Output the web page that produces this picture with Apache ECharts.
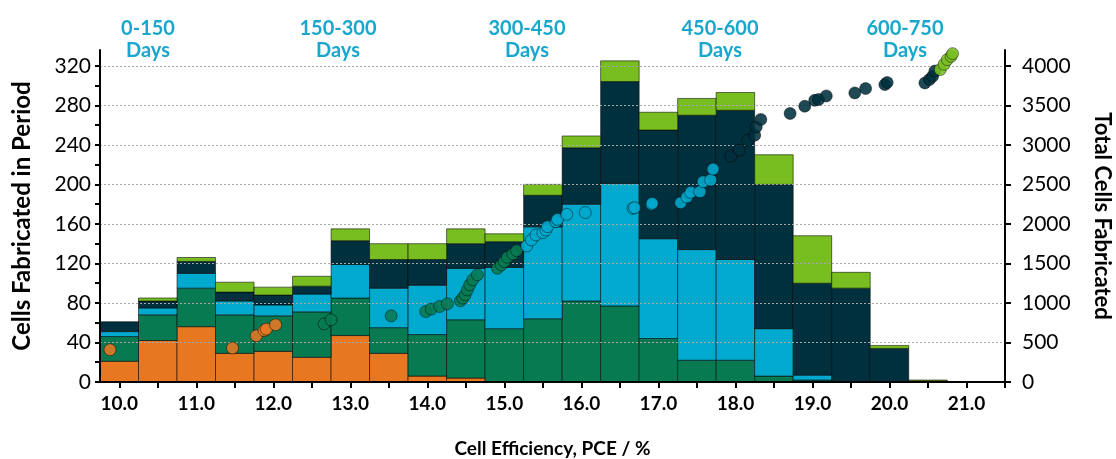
<!DOCTYPE html>
<html><head><meta charset="utf-8">
<script src="https://cdn.jsdelivr.net/npm/echarts@6/dist/echarts.min.js"></script>
<style>html,body{margin:0;padding:0;background:#fff}#c{width:1116px;height:459px}</style>
</head><body><div id="c"></div>
<script>
// ---- data ----
const binCenters = [10.0,10.5,11.0,11.5,12.0,12.5,13.0,13.5,14.0,14.5,15.0,15.5,16.0,16.5,17.0,17.5,18.0,18.5,19.0,19.5,20.0,20.5,21.0];
const periodNames = ['0-150\nDays','150-300\nDays','300-450\nDays','450-600\nDays','600-750\nDays'];
const cells0_150   = [21,42,56,29,31,25,47,29,6,4,0,0,0,0,0,0,0,0,0,0,0,0,0];
const cells150_300 = [25,26,39,39,36,46,38,26,42,59,54,64,82,77,44,22,22,6,2,0,0,0,0];
const cells300_450 = [5,7,15,14,11,18,34,40,50,52,62,93,98,124,101,112,102,48,5,0,0,0,0];
const cells450_600 = [10,7,12,9,10,8,24,29,26,25,26,32,57,103,110,136,151,146,93,95,34,1,0];
const cells600_750 = [0,3,4,10,8,10,12,16,16,15,8,11,12,21,18,17,18,30,48,16,3,1,0];

const total0_150 = [[9.88,408],[11.47,429],[11.78,585],[11.88,652],[11.91,669],[12.03,723]];
const total150_300 = [[12.66,736],[12.75,787],[13.53,837],[13.98,891],[14.05,922],[14.16,955],[14.26,989],[14.43,1027],[14.46,1061],[14.49,1102],[14.52,1165],[14.55,1229],[14.59,1292],[14.65,1355],[14.91,1439],[14.96,1481],[15.00,1523],[15.04,1578],[15.11,1620],[15.16,1662]];
const total300_450 = [[15.29,1721],[15.35,1797],[15.41,1860],[15.50,1889],[15.54,1923],[15.56,1965],[15.67,2028],[15.69,2058],[15.81,2121],[16.05,2144],[16.67,2197],[16.69,2205],[16.91,2247],[16.92,2260],[17.29,2268],[17.37,2340],[17.42,2399],[17.54,2407],[17.58,2533],[17.68,2554],[17.71,2693]];
const total450_600 = [[17.94,2857],[18.05,2933],[18.16,3059],[18.25,3122],[18.27,3227],[18.33,3321],[18.71,3397],[18.90,3489],[19.03,3564],[19.08,3573],[19.18,3619],[19.55,3657],[19.69,3712],[19.94,3762],[19.97,3788],[20.46,3783],[20.52,3826],[20.56,3868],[20.59,3934]];
const total600_750 = [[20.66,3952],[20.71,4019],[20.75,4078],[20.80,4120],[20.82,4154]];

const xTickValues = [10.0,10.5,11.0,11.5,12.0,12.5,13.0,13.5,14.0,14.5,15.0,15.5,16.0,16.5,17.0,17.5,18.0,18.5,19.0,19.5,20.0,20.5,21.0,21.5];
const xTickLabels = [10,11,12,13,14,15,16,17,18,19,20,21];
const leftTickLabels = [0,40,80,120,160,200,240,280,320];
const leftTickMarks = [0,20,40,60,80,100,120,140,160,180,200,220,240,260,280,300,320];
const rightTickLabels = [0,500,1000,1500,2000,2500,3000,3500,4000];

// ---- styling ----
const colors = ['#E87722','#087A52','#00A9CE','#00303D','#78BE20'];
const FONT = 'Lato';
const stacks = [cells0_150, cells150_300, cells300_450, cells450_600, cells600_750];
const totals = [total0_150, total150_300, total300_450, total450_600, total600_750];
const binWidth = binCenters[1] - binCenters[0];

function barSeries(idx) {
  const data = binCenters.map((x, i) => {
    let base = 0;
    for (let k = 0; k < idx; k++) base += stacks[k][i];
    return [x, base, base + stacks[idx][i]];
  });
  return {
    type: 'custom', name: periodNames[idx], xAxisIndex: 0, yAxisIndex: 0, z: 2,
    data, encode: { x: 0, y: [1, 2] },
    renderItem: (params, api) => {
      const x = api.value(0), y0 = api.value(1), y1 = api.value(2);
      if (!(y1 - y0 > 0)) return null;
      const p0 = api.coord([x - binWidth / 2, y0]);
      const p1 = api.coord([x + binWidth / 2, y1]);
      return { type: 'rect',
        shape: { x: p0[0], y: p1[1], width: p1[0] - p0[0], height: p0[1] - p1[1] },
        style: { fill: colors[idx], stroke: 'rgba(0,0,0,0.55)', lineWidth: 1 } };
    }
  };
}
function dotSeries(idx) {
  return {
    type: 'scatter', name: periodNames[idx] + ' total', xAxisIndex: 0, yAxisIndex: 1, z: 6,
    data: totals[idx], symbolSize: 12,
    itemStyle: { color: colors[idx], borderColor: 'rgba(0,0,0,0.5)', borderWidth: 1, opacity: 0.88 }
  };
}

const chart = echarts.init(document.getElementById('c'), null, { renderer: 'canvas' });
const labelX = [148, 338, 527, 720, 905];
chart.setOption({
  animation: false,
  backgroundColor: '#fff',
  grid: { left: 100, right: 111, top: 50, bottom: 77, containLabel: false, outerBoundsMode: 'none' },
  xAxis: {
    type: 'value', min: 9.75, max: 21.5, z: 4,
    axisLine: { lineStyle: { color: '#000', width: 2 } },
    axisTick: { customValues: xTickValues, length: 6, lineStyle: { color: '#000', width: 2 } },
    axisLabel: { customValues: xTickLabels, formatter: v => Number(v).toFixed(1), fontFamily: FONT, fontWeight: 'bold', fontSize: 19, color: '#000', margin: 12 },
    splitLine: { show: false },
    name: 'Cell Efficiency, PCE / %', nameLocation: 'middle', nameGap: 57,
    nameTextStyle: { fontFamily: FONT, fontWeight: 'bold', fontSize: 19, color: '#000' }
  },
  yAxis: [{
    type: 'value', min: 0, max: 336, position: 'left', z: 4,
    axisLine: { show: true, lineStyle: { color: '#000', width: 2 } },
    axisTick: { show: true, customValues: leftTickMarks, length: 5, lineStyle: { color: '#000', width: 2 } },
    axisLabel: { customValues: leftTickLabels, fontFamily: FONT, fontSize: 21, color: '#000', margin: 9 },
    splitLine: { show: false },
    name: 'Cells Fabricated in Period', nameLocation: 'middle', nameGap: 66, nameRotate: 90,
    nameTextStyle: { fontFamily: FONT, fontWeight: 'bold', fontSize: 24, color: '#000' }
  }, {
    type: 'value', min: 0, max: 4200, position: 'right', z: 4,
    axisLine: { show: true, lineStyle: { color: '#000', width: 2 } },
    axisTick: { show: true, customValues: rightTickLabels, length: 6, lineStyle: { color: '#000', width: 2 } },
    axisLabel: { customValues: rightTickLabels, formatter: v => String(v), fontFamily: FONT, fontSize: 21, color: '#000', margin: 17 },
    splitLine: { show: true, lineStyle: { color: '#a8a8a8', type: [2, 2], width: 1 } },
    name: 'Total Cells Fabricated', nameLocation: 'middle', nameGap: 86, nameRotate: -90,
    nameTextStyle: { fontFamily: FONT, fontWeight: 'bold', fontSize: 22, color: '#000' }
  }],
  graphic: periodNames.map((t, i) => ({
    type: 'text', x: labelX[i], y: 18, z: 10,
    style: { text: t, textAlign: 'center', textVerticalAlign: 'top', fill: '#1AA7CE', font: 'bold 20px ' + FONT, lineHeight: 22 }
  })),
  series: [0,1,2,3,4].map(barSeries).concat([0,1,2,3,4].map(dotSeries))
});
</script></body></html>
